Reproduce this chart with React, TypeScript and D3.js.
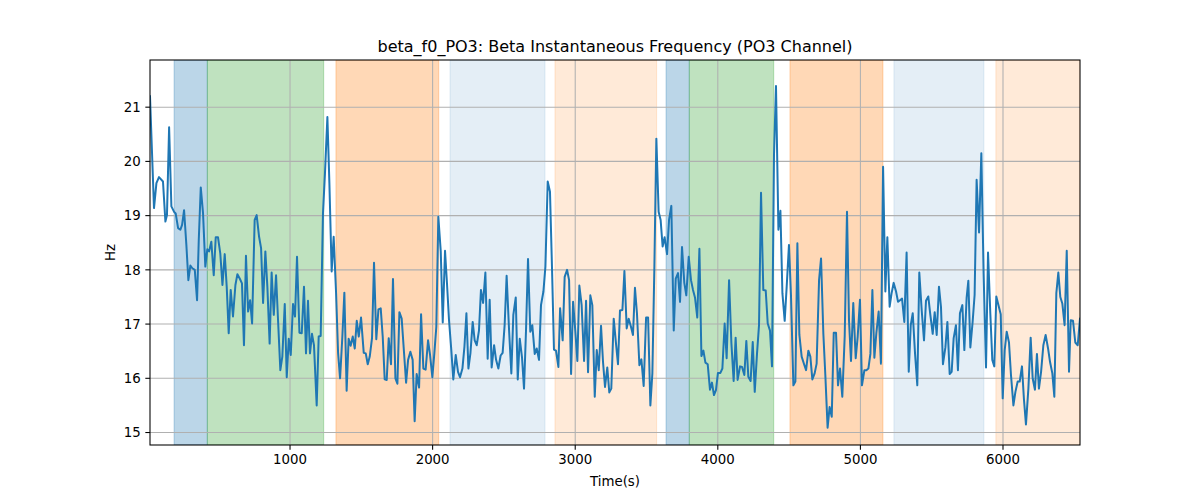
import React from "react";
import * as d3 from "d3";

const TITLE = "beta_f0_PO3: Beta Instantaneous Frequency (PO3 Channel)";
const X_LABEL = "Time(s)";
const Y_LABEL = "Hz";

const X_TICKS = [1000, 2000, 3000, 4000, 5000, 6000];
const Y_TICKS = [15, 16, 17, 18, 19, 20, 21];

// shaded intervals (time) and their kind
const SPAN_START = [187, 420, 1322, 2122, 2858, 3637, 3800, 4506, 5235, 5950];
const SPAN_END = [420, 1236, 2043, 2788, 3571, 3800, 4392, 5158, 5866, 6540];
const SPAN_KIND = ["blue", "green", "orange", "lightblue", "lightorange", "blue", "green", "orange", "lightblue", "lightorange"];

const TIMES = [
  18, 46, 63, 81, 109, 126, 137, 152, 168, 187, 198, 215, 231, 243, 257, 273, 287, 301, 315, 332,
  348, 360, 374, 390, 406, 420, 432, 448, 465, 479, 495, 511, 526, 542, 556, 570, 584, 600, 617, 631,
  647, 663, 677, 691, 706, 720, 734,
  752, 766, 783, 797, 811, 827, 841, 857, 871, 886, 902, 916, 932, 946, 963, 977, 991, 1005, 1021, 1035,
  1049, 1066, 1082, 1098, 1112, 1126, 1140, 1154, 1168, 1187, 1201, 1215, 1231, 1245, 1262, 1276, 1292,
  1306, 1323, 1337, 1351, 1367, 1381, 1397, 1411, 1425, 1440, 1454,
  1468, 1482, 1498, 1517, 1531, 1545, 1559, 1575, 1589, 1605, 1620, 1636, 1650, 1664, 1678, 1692, 1708,
  1722, 1739, 1753, 1767, 1783, 1799, 1814, 1828, 1844, 1860, 1874, 1888, 1905, 1919, 1935, 1951, 1968,
  1982, 1998, 2012, 2026, 2040, 2057, 2071, 2087, 2101, 2115, 2131, 2145, 2162,
  2178, 2192, 2209, 2223, 2237, 2251, 2265, 2281, 2295, 2309, 2325, 2339, 2354, 2370, 2386, 2400, 2414,
  2431, 2445, 2461, 2477, 2491, 2505, 2519, 2536, 2552, 2566, 2583, 2597, 2611, 2627, 2641, 2655, 2669,
  2685, 2699, 2716, 2730, 2746, 2760, 2777, 2791, 2807, 2823, 2837, 2851, 2865, 2882,
  2894, 2912, 2926, 2943, 2957, 2971, 2985, 3001, 3015, 3029, 3045, 3062, 3076, 3090, 3106, 3120, 3137,
  3151, 3165, 3181, 3195, 3209, 3225, 3239, 3253, 3270, 3286, 3300, 3314, 3331, 3345, 3361, 3375, 3391,
  3405, 3419, 3433, 3450, 3464, 3480, 3497, 3511, 3527, 3541, 3555, 3569, 3585, 3599,
  3613, 3627, 3644, 3658, 3674, 3691, 3705, 3721, 3735, 3749, 3765, 3779, 3796, 3812, 3826, 3840, 3856,
  3871, 3885, 3899, 3913, 3929, 3945, 3959, 3973, 3987, 4001, 4018, 4032, 4048, 4062, 4079, 4095, 4111,
  4125, 4139, 4156, 4170, 4186, 4200, 4214, 4230, 4245, 4259, 4275, 4289, 4303,
  4319, 4336, 4350, 4366, 4380, 4394, 4408, 4425, 4439, 4453, 4469, 4483, 4499, 4513, 4530, 4544, 4558,
  4572, 4588, 4605, 4619, 4635, 4649, 4663, 4679, 4693, 4710, 4724, 4740, 4754, 4770, 4784, 4799, 4813,
  4829, 4843, 4857, 4873, 4890, 4906, 4920, 4934, 4950, 4967, 4981, 4997, 5011, 5028,
  5042, 5056, 5070, 5084, 5098, 5112, 5128, 5144, 5159, 5175, 5189, 5205, 5219, 5233, 5250, 5264, 5278,
  5292, 5308, 5324, 5339, 5353, 5367, 5383, 5399, 5413, 5430, 5446, 5460, 5476, 5490, 5507, 5521, 5535,
  5551, 5565, 5579, 5596, 5610, 5626, 5640, 5654, 5670, 5684, 5698, 5715, 5729, 5745,
  5757, 5771, 5787, 5801, 5815, 5832, 5848, 5864, 5881, 5895, 5911, 5925, 5939, 5953, 5970, 5984, 5998,
  6012, 6026, 6042, 6056, 6073, 6087, 6103, 6117, 6133, 6147, 6161, 6178, 6194, 6208, 6224, 6238, 6252,
  6267, 6283, 6299, 6316, 6330, 6346, 6360, 6374, 6388, 6402, 6416, 6432, 6447, 6463, 6475, 6491, 6507,
  6524, 6540,
];

const HZ = [
  21.2, 19.14, 19.6, 19.71, 19.63, 18.89, 19.01, 20.63, 19.17, 19.07, 19.04, 18.77, 18.74, 18.83, 19.1, 18.46, 17.81, 18.08, 18.03, 18.0,
  17.44, 18.55, 19.52, 19.04, 18.06, 18.38, 18.34, 18.52, 17.9, 18.6, 18.6, 18.3, 17.72, 18.29, 17.69, 16.83, 17.63, 17.14, 17.72, 17.92,
  17.84, 17.75, 16.61, 18.26, 17.23, 17.44, 17.01,
  18.92, 19.01, 18.61, 18.4, 17.39, 18.34, 17.69, 16.64, 17.95, 17.17, 17.9, 17.07, 16.15, 16.4, 17.37, 16.02, 16.73, 16.43, 17.37, 17.14,
  18.24, 16.84, 16.83, 17.69, 16.46, 17.43, 16.46, 16.82, 16.61, 15.5, 16.77, 16.78, 19.04, 19.78, 20.82, 19.6, 17.97,
  18.61, 17.57, 16.47, 16.0, 16.77, 17.58, 15.77, 16.73, 16.6, 16.77, 16.55,
  17.06, 16.77, 17.12, 16.47, 16.46, 16.26, 16.4, 16.74, 18.13, 16.72, 17.27, 17.29, 16.77, 15.98, 15.97, 16.74, 16.26,
  17.83, 16.0, 15.9, 17.22, 17.1, 16.49, 15.92, 16.34, 16.49, 16.34, 15.21, 16.08, 15.83, 17.18, 16.18, 16.16, 16.7,
  16.43, 16.02, 16.46, 16.95, 18.98, 18.34, 17.03, 18.35, 17.74, 17.07, 16.52, 15.98, 16.43,
  16.12, 16.02, 16.18, 16.58, 17.2, 16.18, 16.46, 17.04, 16.7, 16.61, 16.88, 17.63, 17.39, 17.95, 16.36, 17.45, 16.2,
  16.61, 16.34, 16.18, 16.42, 16.47, 16.98, 17.89, 16.89, 16.09, 17.17, 17.49, 15.98, 16.73, 16.38, 15.81, 16.89, 18.2,
  16.86, 16.98, 16.45, 16.55, 16.34, 17.35, 17.6, 18.06, 19.63, 19.44, 18.06, 16.53, 16.51, 16.21,
  17.29, 16.7, 17.87, 18.0, 17.81, 16.08, 17.41, 16.86, 16.32, 17.71, 17.35, 16.32, 17.43, 16.11, 17.53, 17.35, 15.66,
  16.52, 16.15, 16.97, 16.3, 15.84, 16.2, 15.74, 15.81, 17.1, 16.64, 16.26, 17.25, 17.26, 17.98, 16.92, 17.1, 16.95,
  16.8, 17.67, 17.2, 16.24, 16.35, 15.86, 17.12, 17.12, 15.5, 16.09, 18.03, 20.42, 19.07, 18.92,
  18.43, 18.6, 18.29, 18.92, 19.18, 16.88, 17.84, 17.94, 17.41, 18.42, 17.76, 17.53, 18.24, 17.81, 17.63, 17.49, 17.12,
  18.39, 16.41, 16.51, 16.29, 16.26, 15.79, 15.92, 15.69, 15.78, 16.1, 16.1, 16.18, 17.01, 16.37, 17.81, 16.66, 15.95,
  16.75, 15.97, 16.22, 16.21, 16.06, 16.69, 16.03, 15.95, 16.67, 15.75, 16.46, 16.98, 19.42,
  17.63, 17.62, 17.01, 16.88, 16.22, 20.12, 21.39, 18.74, 19.09, 17.57, 17.06, 17.69, 18.46, 17.54, 15.87, 15.94, 18.49,
  16.8, 16.4, 16.26, 16.15, 16.51, 16.4, 15.98, 16.09, 16.27, 17.81, 18.21, 16.83, 16.06, 15.09, 15.47, 15.29, 16.84,
  16.84, 15.87, 16.18, 15.66, 16.78, 19.07, 17.07, 16.32, 17.39, 16.37, 16.77, 17.45, 15.87, 16.15,
  16.15, 16.18, 16.45, 17.63, 16.38, 16.84, 17.23, 16.27, 19.9, 17.6, 18.6, 17.32, 17.57, 17.76, 17.6, 17.41, 17.44,
  17.47, 17.04, 18.32, 16.12, 16.98, 17.2, 16.46, 15.87, 17.95, 17.25, 16.7, 17.43, 17.51, 17.18, 16.82, 17.22, 16.8,
  17.69, 17.32, 16.26, 16.57, 17.04, 16.08, 16.12, 16.74, 16.98, 16.15, 17.2, 17.35, 16.52, 17.49,
  17.8, 16.57, 17.04, 17.54, 19.66, 18.69, 20.15, 17.94, 16.2, 18.32, 17.2, 16.34, 16.22, 17.51, 17.33, 17.18, 15.63,
  16.52, 16.86, 16.66, 16.06, 15.5, 15.75, 15.94, 15.94, 16.22, 15.61, 15.15, 15.81, 16.75, 16.0, 15.79, 16.45, 15.81,
  16.12, 16.61, 16.8, 16.55, 16.3, 16.09, 15.66, 17.57, 17.95, 17.5, 17.38, 16.98, 18.35, 16.12, 17.07, 17.06, 16.66,
  16.61, 17.1,
];

const SPAN_STYLE: Record<string, { color: string; opacity: number }> = {
  blue: { color: "#1f77b4", opacity: 0.3 },
  green: { color: "#2ca02c", opacity: 0.3 },
  orange: { color: "#ff7f0e", opacity: 0.3 },
  lightblue: { color: "#1f77b4", opacity: 0.12 },
  lightorange: { color: "#ff7f0e", opacity: 0.16 },
};

const W = 1200;
const H = 500;
const M = { left: 150, right: 1080, top: 60, bottom: 445 };
const FONT = "DejaVu Sans, sans-serif";

export default function App() {
  const n = Math.min(TIMES.length, HZ.length);
  const data = d3.range(n).map((i) => ({ t: TIMES[i], v: HZ[i] }));
  const x = d3.scaleLinear().domain([18, 6540]).range([M.left, M.right]);
  const y = d3.scaleLinear().domain([14.77, 21.87]).range([M.bottom, M.top]);
  const line = d3
    .line<{ t: number; v: number }>()
    .x((d) => x(d.t))
    .y((d) => y(d.v));

  return (
    <svg
      width={W}
      height={H}
      style={{ position: "absolute", left: 0, top: 0, background: "#fff" }}
      fontFamily={FONT}
    >
      <rect x={0} y={0} width={W} height={H} fill="#fff" />
      <defs>
        <clipPath id="plot">
          <rect x={M.left} y={M.top} width={M.right - M.left} height={M.bottom - M.top} />
        </clipPath>
      </defs>
      <g clipPath="url(#plot)">
        {SPAN_START.map((s, i) => {
          const st = SPAN_STYLE[SPAN_KIND[i]];
          const x0 = x(s);
          const x1 = x(SPAN_END[i]);
          return (
            <rect
              key={i}
              x={x0}
              y={M.top}
              width={x1 - x0}
              height={M.bottom - M.top}
              fill={st.color}
              fillOpacity={st.opacity}
              stroke={st.color}
              strokeOpacity={st.opacity}
              strokeWidth={1}
            />
          );
        })}
      </g>
      {/* grid */}
      <g stroke="#b0b0b0" strokeWidth={1.07}>
        {X_TICKS.map((t) => (
          <line key={t} x1={x(t)} x2={x(t)} y1={M.top} y2={M.bottom} />
        ))}
        {Y_TICKS.map((t) => (
          <line key={t} x1={M.left} x2={M.right} y1={y(t)} y2={y(t)} />
        ))}
      </g>
      <g clipPath="url(#plot)">
        <path
          d={line(data) || ""}
          fill="none"
          stroke="#1f77b4"
          strokeWidth={2}
          strokeLinejoin="round"
          strokeLinecap="square"
        />
      </g>
      {/* frame */}
      <rect
        x={M.left}
        y={M.top}
        width={M.right - M.left}
        height={M.bottom - M.top}
        fill="none"
        stroke="#000"
        strokeWidth={1.07}
      />
      {/* x ticks */}
      {X_TICKS.map((t) => (
        <g key={t}>
          <line x1={x(t)} x2={x(t)} y1={M.bottom} y2={M.bottom + 4.67} stroke="#000" strokeWidth={1.07} />
          <text x={x(t)} y={M.bottom + 9.3} dy="0.76em" textAnchor="middle" fontSize={13.33} fill="#000">
            {t}
          </text>
        </g>
      ))}
      {/* y ticks */}
      {Y_TICKS.map((t) => (
        <g key={t}>
          <line x1={M.left - 4.67} x2={M.left} y1={y(t)} y2={y(t)} stroke="#000" strokeWidth={1.07} />
          <text x={M.left - 9.3} y={y(t)} dy="0.36em" textAnchor="end" fontSize={13.33} fill="#000">
            {t}
          </text>
        </g>
      ))}
      <text x={(M.left + M.right) / 2} y={52} textAnchor="middle" fontSize={16} fill="#000">
        {TITLE}
      </text>
      <text x={(M.left + M.right) / 2} y={486} textAnchor="middle" fontSize={13.33} fill="#000">
        {X_LABEL}
      </text>
      <text
        transform={`translate(115, ${(M.top + M.bottom) / 2}) rotate(-90)`}
        textAnchor="middle"
        fontSize={13.33}
        fill="#000"
      >
        {Y_LABEL}
      </text>
    </svg>
  );
}
